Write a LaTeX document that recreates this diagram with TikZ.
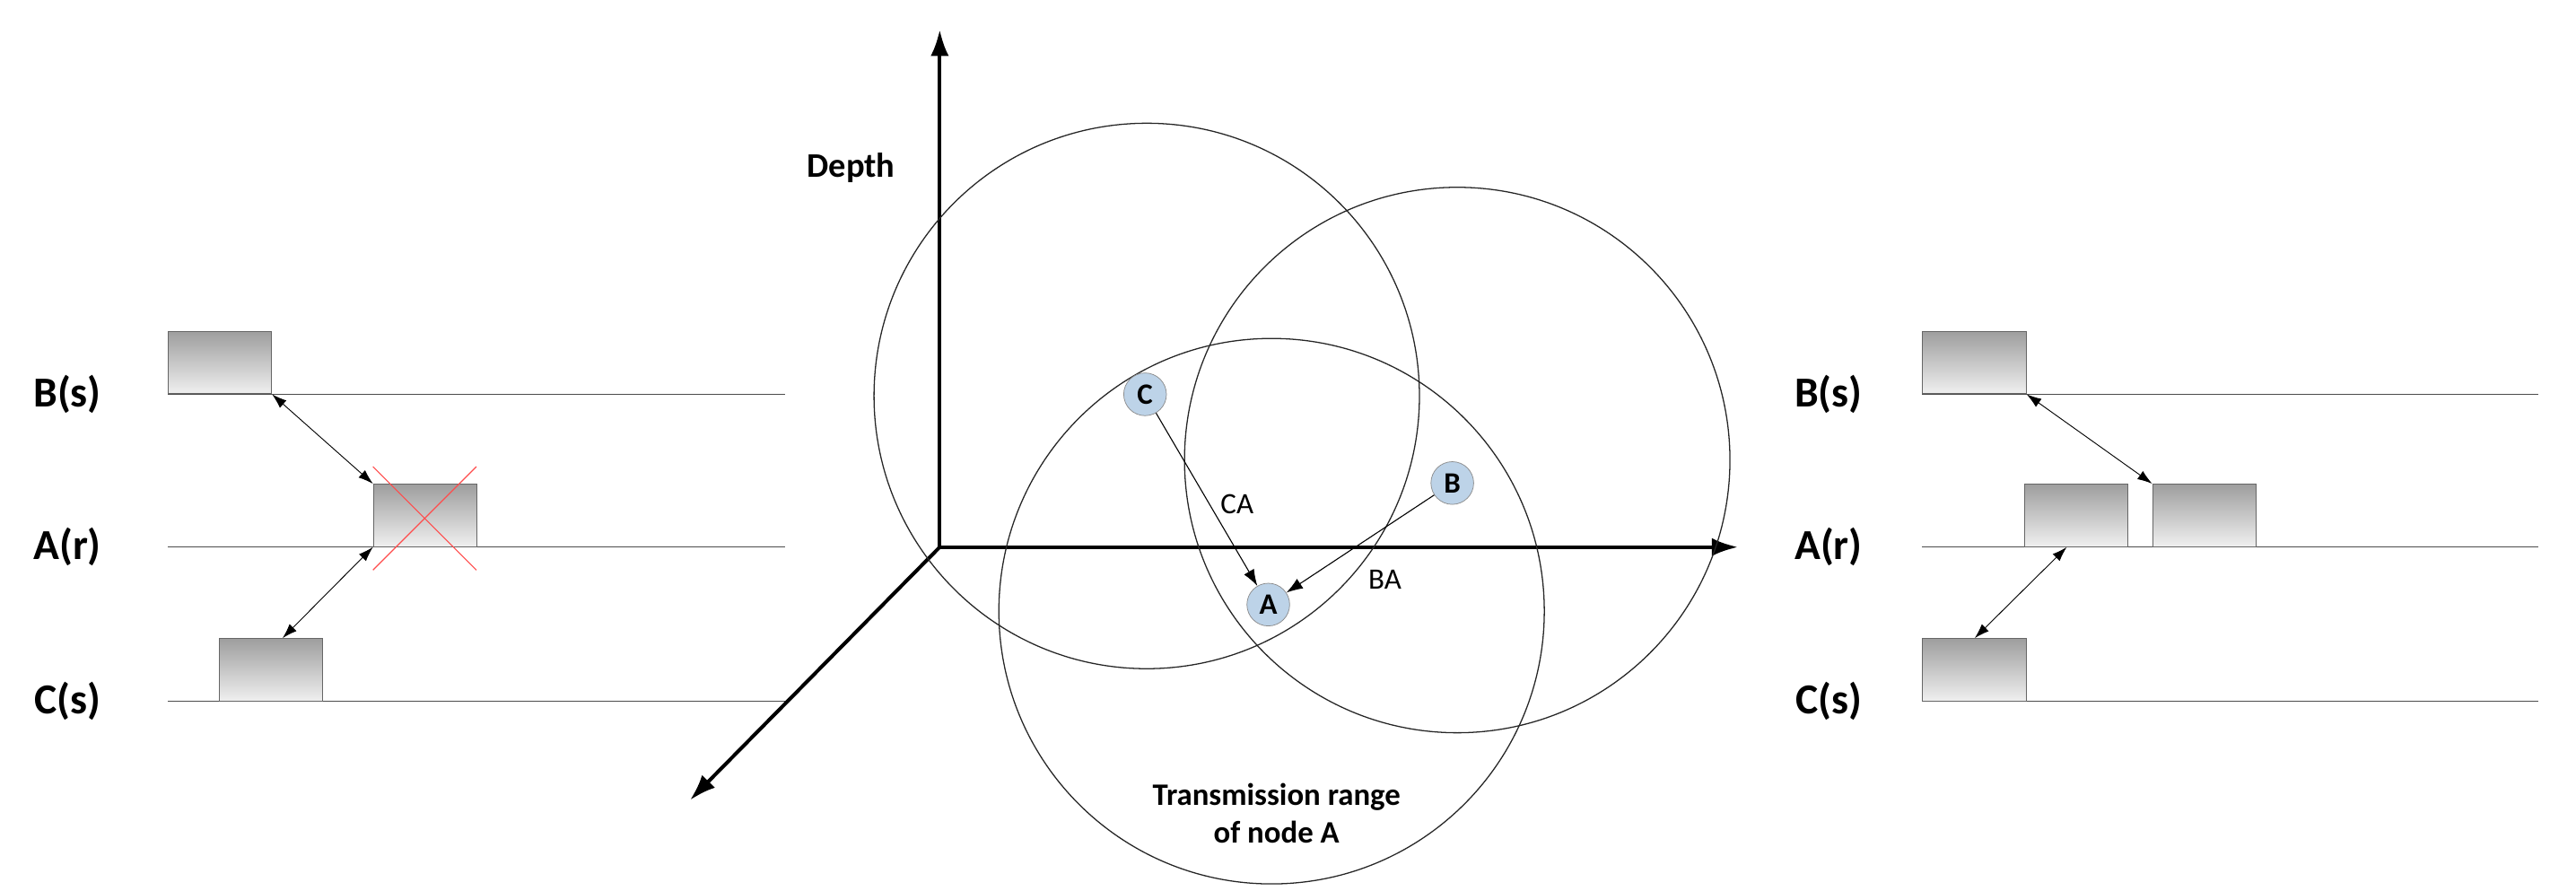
\documentclass[tikz,border=0pt]{standalone}
\usepackage{fontspec}
\setmainfont{Carlito}
\usetikzlibrary{arrows.meta}
\begin{document}
\begin{tikzpicture}[x=1pt,y=-1pt,
  lane/.style={draw=black!70,line width=0.7pt},
  slot/.style={draw=black!60,line width=0.6pt,top color=black!38,bottom color=black!6,minimum width=63pt,minimum height=38pt,inner sep=0pt},
  lab/.style={font=\bfseries\fontsize{26}{30}\selectfont},
  dbl/.style={{Latex[length=9pt,width=6pt]}-{Latex[length=9pt,width=6pt]},line width=0.5pt},
  axis/.style={line width=2.2pt,-{Latex[length=16pt,width=11pt]}},
  rng/.style={draw=black!85,line width=0.7pt},
  nd/.style={circle,draw=black!45,fill={rgb,255:red,189;green,211;blue,232},minimum size=26pt,inner sep=0pt,font=\bfseries\fontsize{18}{20}\selectfont},
  lk/.style={-{Latex[length=10pt,width=7pt]},line width=0.6pt}]
\useasboundingbox (0,0) rectangle (1568,542);
% left panel
\node[lab] (lb) at (41,240) {B(s)};
\node[lab] (la) at (41,333) {A(r)};
\node[lab] (lc) at (41,427) {C(s)};
\coordinate (lb1) at (102,240); \coordinate (lb2) at (478,240);
\coordinate (la1) at (102,333); \coordinate (la2) at (478,333);
\coordinate (lc1) at (102,427); \coordinate (lc2) at (478,427);
\draw[lane] (lb1)--(lb2); \draw[lane] (la1)--(la2); \draw[lane] (lc1)--(lc2);
\node[slot,anchor=south west] (bx1) at (102,240) {};
\node[slot,anchor=south west] (ax1) at (227,333) {};
\node[slot,anchor=south west] (cx1) at (133,427) {};
\draw[dbl] (bx1.south east) -- (ax1.north west);
\draw[dbl] (ax1.south west) -- ([xshift=39pt]cx1.north west);
\coordinate (x1) at (227,284); \coordinate (x2) at (290,347);
\coordinate (x3) at (290,284); \coordinate (x4) at (227,347);
\draw[red!70,line width=0.6pt] (x1)--(x2); \draw[red!70,line width=0.6pt] (x3)--(x4);
% axes
\coordinate (o) at (572,333);
\coordinate (up) at (572,18); \coordinate (rt) at (1058,333); \coordinate (dl) at (420,487);
\draw[axis] (o)--(up); \draw[axis] (o)--(rt); \draw[axis] (o)--(dl);
\node[font=\bfseries\fontsize{21}{24}\selectfont] (depth) at (518,102) {Depth};
% ranges
\draw[rng] (698,241) circle (166);
\draw[rng] (887,280) circle (166);
\draw[rng] (774,372) circle (166);
\node[font=\bfseries\fontsize{19}{23}\selectfont,align=center] (tr) at (777,495) {Transmission range\\of node A};
\node[nd] (C) at (697,240) {C};
\node[nd] (B) at (884,294) {B};
\node[nd] (A) at (772,368) {A};
\draw[lk] (C)--(A); \draw[lk] (B)--(A);
\node[font=\fontsize{18}{20}\selectfont] (ca) at (753,307) {CA};
\node[font=\fontsize{18}{20}\selectfont] (ba) at (843,353) {BA};
% right panel
\node[lab] (rb) at (1113,240) {B(s)};
\node[lab] (ra) at (1113,333) {A(r)};
\node[lab] (rc) at (1113,427) {C(s)};
\coordinate (rb1) at (1170,240); \coordinate (rb2) at (1545,240);
\coordinate (ra1) at (1170,333); \coordinate (ra2) at (1545,333);
\coordinate (rc1) at (1170,427); \coordinate (rc2) at (1545,427);
\draw[lane] (rb1)--(rb2); \draw[lane] (ra1)--(ra2); \draw[lane] (rc1)--(rc2);
\node[slot,anchor=south west] (bx2) at (1170,240) {};
\node[slot,anchor=south west] (ax2) at (1232,333) {};
\node[slot,anchor=south west] (ax3) at (1310,333) {};
\node[slot,anchor=south west] (cx2) at (1170,427) {};
\draw[dbl] (bx2.south east) -- (ax3.north west);
\draw[dbl] ([xshift=26pt]ax2.south west) -- ([xshift=32pt]cx2.north west);
\end{tikzpicture}
\end{document}
